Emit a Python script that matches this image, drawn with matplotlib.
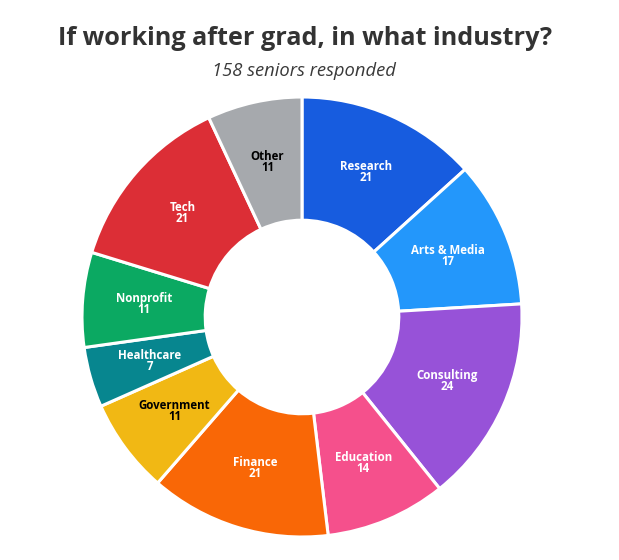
import matplotlib.pyplot as plt
import numpy as np

# industries, clockwise from 12 o'clock
industries = ["Research", "Arts & Media", "Consulting", "Education", "Finance",
              "Government", "Healthcare", "Nonprofit", "Tech", "Other"]
counts = [21, 17, 24, 14, 21, 11, 7, 11, 21, 11]
colors = ["#175CDF", "#2397FB", "#9752D8", "#F5508C", "#F96706",
          "#F1B814", "#07868F", "#0BA962", "#DC2E36", "#A6A9AD"]
text_colors = ["white"] * 5 + ["black"] + ["white"] * 3 + ["black"]

title = "If working after grad, in what industry?"
subtitle = "158 seniors responded"

fig = plt.figure(figsize=(6.19, 5.6), dpi=100)
fig.patch.set_facecolor("white")

fig.text(0.493, 0.932, title, ha="center", va="center",
         fontsize=18.2, fontweight="bold", color="#333333", family="Open Sans")
fig.text(0.491, 0.873, subtitle, ha="center", va="center",
         fontsize=13.2, style="italic", color="#3a3a3a", family="Open Sans")

# donut axes: 1 data unit = 220 px, centre at (302, 317) px from top-left
ax = fig.add_axes([82 / 619, 23 / 560, 440 / 619, 440 / 560])
labels = [f"{n}\n{c}" for n, c in zip(industries, counts)]
wedges, texts = ax.pie(counts, colors=colors, startangle=90, counterclock=False,
                       radius=1.0, labels=labels, labeldistance=None,
                       wedgeprops=dict(width=0.56, edgecolor="white",
                                       linewidth=2.2, joinstyle="round"))

r_mid = 1.0 - 0.56 / 2
for w, lab, tc in zip(wedges, labels, text_colors):
    ang = np.deg2rad((w.theta1 + w.theta2) / 2)
    ax.text(r_mid * np.cos(ang), r_mid * np.sin(ang), lab, ha="center",
            va="center", fontsize=8.3, fontweight="bold", color=tc,
            family="Open Sans", linespacing=0.8)

ax.set_xlim(-1, 1)
ax.set_ylim(-1, 1)
ax.set_aspect("equal")
ax.axis("off")

fig.savefig("out.png", dpi=100, facecolor="white")
